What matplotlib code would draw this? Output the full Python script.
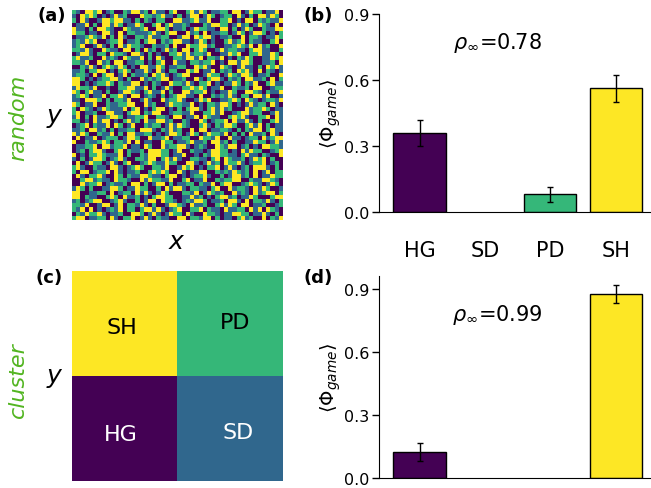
import numpy as np
import matplotlib
matplotlib.use("Agg")
import matplotlib.pyplot as plt

# strategy codes used on the lattices: 0=HG, 1=SD, 2=PD, 3=SH
games = ["HG", "SD", "PD", "SH"]

# panel (a): random initial lattice (50 x 50)
random_rows = [
    "2103323012 0021331203 1102300231 3201122033 0132201130",
    "1032320101 3120003221 2311020133 0132012203 1020331320",
    "2031001332 3311020210 2200331123 1130022301 0330212113",
    "0113020331 3201132002 3023112100 0213322013 1201321030",
    "3110203321 0032112300 3320112013 2211033020 1320021133",
    "3220110331 0302211123 1023300312 0301122013 2013320102",
    "0112321302 0310022131 1220013303 2331011200 3022101132",
    "1213230012 2301120233 0212331101 3201002312 3021100230",
    "1230013102 0313221002 1120300322 3312001123 2130312003",
    "2213100321 1033020312 0131203302 3200131221 1023311002",
    "0133102203 2210331020 1002231312 2130011323 0022311320",
    "2311200312 1032113020 3100221331 3022130102 1320011323",
    "2213003120 3301122010 2300311022 1223010331 3320011203",
    "0021310232 1320103311 3201122003 2310032101 3110203231",
    "1120223301 0232011310 3102200323 0113021203 2310302101",
    "1221030233 0130211203 2310123300 0132201321 3320112003",
    "3320101223 3102003121 2330112003 1023310212 0331120302",
    "3301012232 0211330102 1003221310 2230101132 0213002311",
    "1322130010 0223311302 0131002232 3201130021 1203300122",
    "3202311020 0133210231 1302003312 2301011320 0332102113",
    "1232011302 2310330121 0201233110 3002121310 2203313001",
    "1103332020 2213001310 0312231001 3230011232 0321012213",
    "3201130021 1223300312 0013221130 1022133201 0131220310",
    "2032101321 1130230102 3301020233 1023131200 0312232011",
    "2301120033 1102330213 3001221130 0223130012 3312200131",
    "1302031123 3201122300 2210330113 0321100232 3100223031",
    "2201031330 1023120311 3312002100 3201223031 1310200231",
    "0123021130 3201300212 2013132100 2310213320 0231302011",
    "1120331202 0112203331 0213120030 3301122102 0213302311",
    "3132002113 0203311220 1013320132 0132213020 2031120310",
    "0301130122 2013320031 1230112200 3221300311 0122031233",
    "3002112320 2213030110 0322011231 1203312020 0113220131",
    "0112230331 2230110320 0312233101 2100321330 1201033221",
    "0120233100 2302112033 3220130021 1013322010 3132200123",
    "3010223211 1302002133 3220113001 0213322110 2311021003",
    "1020133201 2310022133 0231310022 1102303211 2013230200",
    "0301322013 1023001232 1132200331 0131203223 1012230120",
    "2310021103 3101232002 2130013230 1022301310 1203331020",
    "2033012230 3101120023 2320031011 3300212132 1203013022",
    "0310223100 3202113321 1023301012 2310020133 1203011322",
    "0023312110 3221003132 2113002301 1300212233 0021133210",
    "0031223012 1120330201 3302011220 2113023300 1232101320",
    "1320200113 3201132200 2031331022 1102300312 2103132001",
    "3300112203 0122031310 1320002213 0132120031 2103123302",
    "3302110023 2031120102 3322001131 2010233120 1132000233",
    "1201233001 2310020133 0322101213 3201120331 0302213102",
    "2213001330 1302213102 0013321031 1200231320 3301120012",
    "2130301012 1302202331 3101230022 3021103112 2031303210",
    "0213223101 1200332013 1013220310 0322101133 2201131020",
    "2330112203 1022301310 2110033022 1330201102 3120030213",
]

# panel (c): clustered initial condition, 2 x 2 blocks
cluster_grid = [[3, 2],
                [0, 1]]

# bar values: mean fraction of each game and its error
phi_random = [0.36, 0.0, 0.08, 0.562]
err_random = [0.06, 0.0, 0.033, 0.062]
phi_cluster = [0.125, 0.0, 0.0, 0.877]
err_cluster = [0.042, 0.0, 0.0, 0.042]
rho_random = 0.78
rho_cluster = 0.99

W, H = 651, 489
GREEN = "#52b521"
cmap = plt.get_cmap("viridis")
colors = [cmap(k / 3) for k in range(4)]


def box(x0, y0, x1, y1):
    # pixel box (top-left origin) -> figure fraction rect
    return [x0 / W, 1 - y1 / H, (x1 - x0) / W, (y1 - y0) / H]


def ftext(x, y, s, **kw):
    fig.text(x / W, 1 - y / H, s, ha="center", va="center", **kw)


fig = plt.figure(figsize=(W / 100, H / 100), dpi=100)

lat = np.array([[int(c) for c in r.replace(" ", "")] for r in random_rows])
ax_a = fig.add_axes(box(72, 11, 283, 221))
ax_a.imshow(lat, cmap="viridis", vmin=0, vmax=3, aspect="auto",
            interpolation="nearest")

ax_c = fig.add_axes(box(72, 272, 283, 482))
ax_c.imshow(np.array(cluster_grid), cmap="viridis", vmin=0, vmax=3,
            aspect="auto", interpolation="nearest")
lab_pos = {"SH": (-0.03, 0.03, "black"), "PD": (1.05, -0.01, "black"),
           "HG": (-0.04, 1.05, "white"), "SD": (1.07, 1.03, "white")}
for g, (cx, cy, col) in lab_pos.items():
    ax_c.text(cx, cy, g, ha="center", va="center", fontsize=16, color=col)

for a in (ax_a, ax_c):
    a.set_xticks([]); a.set_yticks([])
    for s in a.spines.values():
        s.set_visible(False)


def bars(ax, vals, errs, rho, rho_y, show_labels):
    x = np.arange(len(games))
    for i in x:
        if vals[i] <= 0:
            continue
        ax.bar(i, vals[i], width=0.8, color=colors[i], edgecolor="black",
               linewidth=1.0, zorder=2)
        ax.errorbar(i, vals[i], yerr=errs[i], color="black", lw=1.0,
                    capsize=2.5, capthick=1.0, zorder=3)
    ax.set_xlim(-0.62, 3.54)
    ax.set_yticks([0.0, 0.3, 0.6, 0.9])
    ax.set_yticklabels(["0.0", "0.3", "0.6", "0.9"])
    ax.tick_params(axis="y", labelsize=11.5, length=5, width=1, pad=2)
    ax.set_xticks(x)
    if show_labels:
        ax.set_xticklabels(games)
    else:
        ax.set_xticklabels([])
    ax.tick_params(axis="x", length=0, pad=20, labelsize=15)
    ax.spines["top"].set_visible(False)
    ax.spines["right"].set_visible(False)
    ax.set_ylabel(r"$\langle\Phi_{game}\rangle$", fontsize=14, labelpad=1)
    ax.text(0.435, rho_y, r"$\rho_{\infty}$=" + f"{rho:.2f}",
            transform=ax.transAxes, ha="center", va="center", fontsize=15)


ax_b = fig.add_axes(box(379, 15, 651, 213))
ax_b.set_ylim(0, 0.9)
bars(ax_b, phi_random, err_random, rho_random, 0.859, True)

ax_d = fig.add_axes(box(379, 277, 651, 479))
ax_d.set_ylim(0, 0.963)
bars(ax_d, phi_cluster, err_cluster, rho_cluster, 0.81, False)

ftext(52, 16, "(a)", fontsize=13, fontweight="bold")
ftext(318, 16, "(b)", fontsize=13, fontweight="bold")
ftext(49, 278, "(c)", fontsize=13, fontweight="bold")
ftext(318, 278, "(d)", fontsize=13, fontweight="bold")
ftext(18, 118, "random", fontsize=16, style="italic", color=GREEN, rotation=90)
ftext(18, 380, "cluster", fontsize=16, style="italic", color=GREEN, rotation=90)
ftext(55, 118, "$y$", fontsize=18)
ftext(55, 378, "$y$", fontsize=18)
ftext(177, 242, "$x$", fontsize=18)

fig.savefig("out.png", dpi=100, facecolor="white")
